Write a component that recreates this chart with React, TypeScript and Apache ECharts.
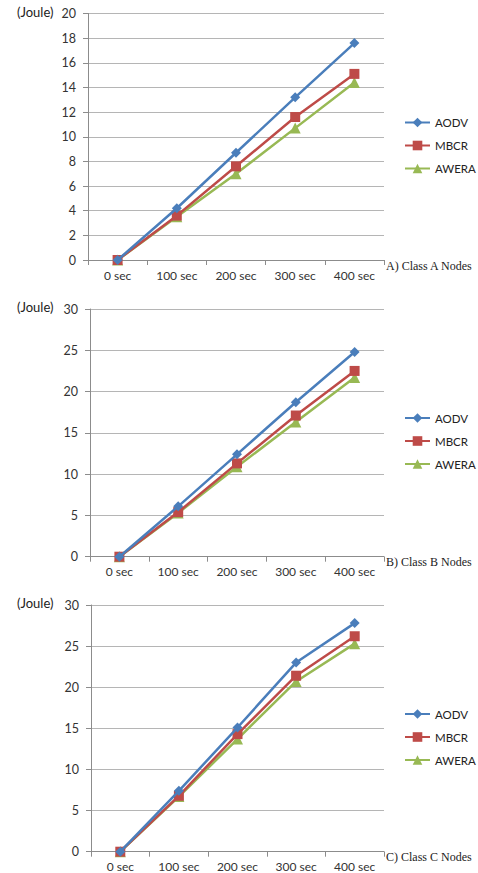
import React, { useEffect, useRef } from "react";
import * as echarts from "echarts";

const categories = ["0 sec", "100 sec", "200 sec", "300 sec", "400 sec"];
const seriesNames = ["AODV", "MBCR", "AWERA"];
const captions = ["A) Class A Nodes", "B) Class B Nodes", "C) Class C Nodes"];

const classA_AODV = [0, 4.2, 8.7, 13.2, 17.6];
const classA_MBCR = [0, 3.6, 7.6, 11.6, 15.1];
const classA_AWERA = [0, 3.5, 7.0, 10.7, 14.4];

const classB_AODV = [0, 6.1, 12.4, 18.7, 24.8];
const classB_MBCR = [0, 5.4, 11.3, 17.1, 22.5];
const classB_AWERA = [0, 5.3, 10.9, 16.3, 21.7];

const classC_AODV = [0, 7.4, 15.1, 23.0, 27.8];
const classC_MBCR = [0, 6.8, 14.3, 21.4, 26.2];
const classC_AWERA = [0, 6.7, 13.7, 20.7, 25.3];

const yMax = [20, 30, 30];
const yInterval = [2, 5, 5];

const colors = ["#4A7EBB", "#BE4B48", "#98B954"];
const symbols = ["diamond", "rect", "triangle"];
const symbolSizes = [10, 10, 11];

const grids = [
  { left: 88, top: 13.5, width: 296, height: 246.5 },
  { left: 90, top: 309, width: 294, height: 247.7 },
  { left: 91, top: 605, width: 293, height: 246.7 },
];
const legendTops = [116.5, 412, 708];
const captionY = [267, 563, 858];
const jouleY = [13.5, 308, 604];

export default function App() {
  const ref = useRef<HTMLDivElement>(null);
  useEffect(() => {
    if (!ref.current) return;
    const chart = echarts.init(ref.current, undefined, { renderer: "svg" });
    const data = [
      [classA_AODV, classA_MBCR, classA_AWERA],
      [classB_AODV, classB_MBCR, classB_AWERA],
      [classC_AODV, classC_MBCR, classC_AWERA],
    ];
    const font = "Lato, 'Open Sans', sans-serif";
    const series: any[] = [];
    data.forEach((group, gi) => {
      group.forEach((vals, si) => {
        series.push({
          type: "line",
          name: seriesNames[si],
          xAxisIndex: gi,
          yAxisIndex: gi,
          data: vals,
          symbol: symbols[si],
          symbolSize: symbolSizes[si],
          showAllSymbol: true,
          lineStyle: { color: colors[si], width: 2.5 },
          itemStyle: { color: colors[si] },
          z: 3 - si + 2,
        });
      });
    });
    const graphics: any[] = [];
    for (let i = 0; i < 3; i++) {
      graphics.push({
        type: "text",
        left: 386,
        top: captionY[i] - 7,
        style: {
          text: captions[i],
          font: "12px 'Liberation Serif', 'Times New Roman', serif",
          fill: "#222",
        },
      });
      graphics.push({
        type: "text",
        left: 17,
        top: jouleY[i] - 8,
        style: {
          text: "(Joule)",
          font: "13px " + font,
          fill: "#222",
        },
      });
    }
    chart.setOption({
      animation: false,
      backgroundColor: "#ffffff",
      grid: grids.map((g) => ({ ...g, containLabel: false })),
      xAxis: grids.map((_, i) => ({
        type: "category",
        gridIndex: i,
        data: categories,
        boundaryGap: true,
        axisLine: { lineStyle: { color: "#8c8c8c", width: 1 } },
        axisTick: { show: true, length: 5, lineStyle: { color: "#8c8c8c" } },
        axisLabel: { color: "#333", fontSize: 12, fontFamily: font, margin: 9 },
        splitLine: { show: false },
      })),
      yAxis: grids.map((_, i) => ({
        type: "value",
        gridIndex: i,
        min: 0,
        max: yMax[i],
        interval: yInterval[i],
        axisLine: { show: true, lineStyle: { color: "#8c8c8c", width: 1 } },
        axisTick: { show: true, length: 5, lineStyle: { color: "#8c8c8c" } },
        axisLabel: { color: "#333", fontSize: 12.5, fontFamily: font, margin: 12 },
        splitLine: { show: true, lineStyle: { color: "#b5b5b5", width: 1 } },
      })),
      legend: legendTops.map((t) => ({
        orient: "vertical",
        left: 404,
        top: t,
        padding: 0,
        itemWidth: 25,
        itemHeight: 12,
        itemGap: 11,
        data: seriesNames,
        selectedMode: false,
        textStyle: { color: "#222", fontSize: 11.5, fontFamily: font },
      })),
      series,
      graphic: graphics,
    });
    return () => chart.dispose();
  }, []);
  return (
    <div
      ref={ref}
      style={{ position: "fixed", left: 0, top: 0, width: 478, height: 873 }}
    />
  );
}
